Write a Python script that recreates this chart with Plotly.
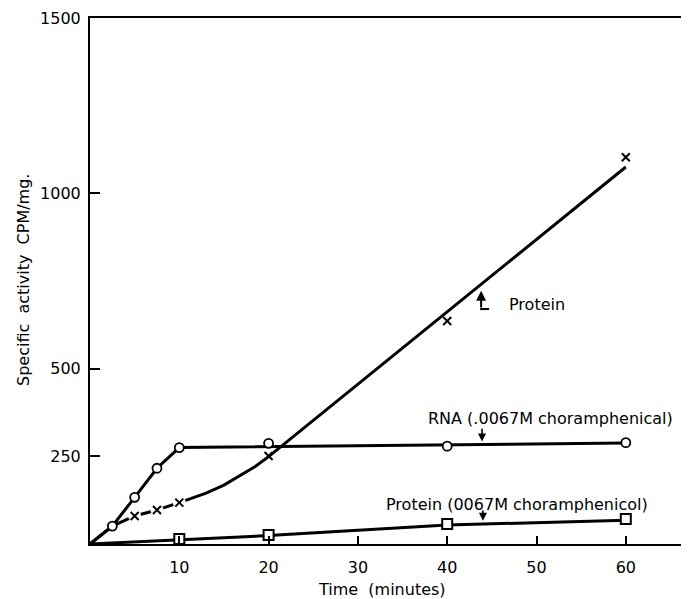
import plotly.graph_objects as go

# ---- data ----
rna_x = [2.5, 5, 7.5, 10, 20, 40, 60]
rna_y = [51, 133, 216, 275, 287, 279, 289]
rna_fit_x = [0, 2.5, 5, 7.5, 10, 20, 40, 60]
rna_fit_y = [0, 51, 133, 216, 275, 278, 283, 288]

protein_x = [5, 7.5, 10, 20, 40, 60]
protein_y = [80, 97, 118, 251, 636, 1103]
protein_fit_x = [0, 2.5, 5, 7.5, 10, 11.5, 13, 15, 17, 18.5, 20, 60]
protein_fit_y = [0, 51, 80, 97, 118, 131, 145, 168, 197, 221, 249, 1075]

chl_x = [10, 20, 40, 60]
chl_y = [14, 26, 57, 71]
chl_fit_x = [0, 10, 20, 40, 60]
chl_fit_y = [0, 12, 24, 54, 68]

x_ticks = [10, 20, 30, 40, 50, 60]
y_ticks = [250, 500, 1000, 1500]
y_tick_labels = ["250", "500", "1000", "1500"]

FONT = "DejaVu Sans"
LW = 3

# the page has an 8px body margin, so the figure is shrunk and shifted by it
PAGE_OFF = 8
PLOT_L, PLOT_T, PLOT_B = 90, 18, 544   # target pixel positions in the window
PLOT_W = 689 - PLOT_L
PLOT_H = PLOT_B - PLOT_T

fig = go.Figure()

# fitted lines
fig.add_trace(go.Scatter(x=rna_fit_x, y=rna_fit_y, mode="lines",
                         line=dict(color="black", width=LW), hoverinfo="skip"))
fig.add_trace(go.Scatter(x=protein_fit_x, y=protein_fit_y, mode="lines",
                         line=dict(color="black", width=LW), hoverinfo="skip"))
fig.add_trace(go.Scatter(x=chl_fit_x, y=chl_fit_y, mode="lines",
                         line=dict(color="black", width=LW), hoverinfo="skip"))

# white gaps around the early x markers
fig.add_trace(go.Scatter(x=protein_x[:3], y=protein_y[:3], mode="markers",
                         marker=dict(symbol="circle", size=13, color="white",
                                     line=dict(width=0)), hoverinfo="skip"))

# markers
fig.add_trace(go.Scatter(x=rna_x, y=rna_y, mode="markers",
                         marker=dict(symbol="circle", size=9, color="white",
                                     line=dict(color="black", width=1.8))))
fig.add_trace(go.Scatter(x=protein_x, y=protein_y, mode="markers",
                         marker=dict(symbol="x-thin", size=8, color="black",
                                     line=dict(color="black", width=2))))
fig.add_trace(go.Scatter(x=chl_x, y=chl_y, mode="markers",
                         marker=dict(symbol="square", size=10, color="white",
                                     line=dict(color="black", width=2))))

annotations = [
    dict(x=46.7, y=684, xref="x", yref="y", text="Protein", showarrow=False,
         xanchor="left", yanchor="middle", font=dict(family=FONT, size=16, color="black")),
    dict(x=43.8, y=722, ax=43.8, ay=670, xref="x", yref="y", axref="x", ayref="y",
         text="", showarrow=True, arrowhead=2, arrowsize=1, arrowwidth=2, arrowcolor="black"),
    dict(x=51.6, y=359, xref="x", yref="y", text="RNA (.0067M choramphenical)",
         showarrow=False, xanchor="center", yanchor="middle",
         font=dict(family=FONT, size=16, color="black")),
    dict(x=43.9, y=292, ax=43.9, ay=333, xref="x", yref="y", axref="x", ayref="y",
         text="", showarrow=True, arrowhead=2, arrowsize=1, arrowwidth=1.6, arrowcolor="black"),
    dict(x=47.8, y=112, xref="x", yref="y", text="Protein (0067M choramphenicol)",
         showarrow=False, xanchor="center", yanchor="middle",
         font=dict(family=FONT, size=16, color="black")),
    dict(x=44.0, y=66, ax=44.0, ay=100, xref="x", yref="y", axref="x", ayref="y",
         text="", showarrow=True, arrowhead=2, arrowsize=1, arrowwidth=1.6, arrowcolor="black"),
    dict(x=(382 - PLOT_L) / PLOT_W, y=(PLOT_B - 589) / PLOT_H, xref="paper", yref="paper",
         text="Time  (minutes)", showarrow=False, xanchor="center", yanchor="middle",
         font=dict(family=FONT, size=16, color="black")),
    dict(x=-(PLOT_L - 23) / PLOT_W, y=(PLOT_B - 280) / PLOT_H, xref="paper", yref="paper",
         text="Specific  activity  CPM/mg.", showarrow=False, textangle=-90,
         xanchor="center", yanchor="middle",
         font=dict(family=FONT, size=16, color="black")),
]

fig.update_layout(
    width=689 - PAGE_OFF, height=599 - PAGE_OFF,
    margin=dict(l=PLOT_L - PAGE_OFF, r=0, t=PLOT_T - PAGE_OFF, b=599 - PLOT_B),
    paper_bgcolor="white", plot_bgcolor="white",
    showlegend=False,
    font=dict(family=FONT, size=16, color="black"),
    annotations=annotations,
    shapes=[dict(type="line", xref="x", yref="y", xsizemode="pixel", xanchor=43.8,
                 x0=-1, x1=8, y0=670, y1=670, line=dict(color="black", width=2))],
    xaxis=dict(range=[0, PLOT_W / 8.93], tickvals=x_ticks, ticks="inside", ticklen=8,
               tickwidth=1.5, tickcolor="black", showline=True, linecolor="black",
               linewidth=2, mirror=True, showgrid=False, zeroline=False,
               ticklabelstandoff=8, automargin=False,
               tickfont=dict(family=FONT, size=16, color="black")),
    yaxis=dict(range=[0, 1500], tickvals=y_ticks, ticktext=y_tick_labels,
               ticks="inside", ticklen=10, tickwidth=1.5, tickcolor="black",
               showline=True, linecolor="black", linewidth=2, mirror=False,
               showgrid=False, zeroline=False, ticklabelstandoff=4, automargin=False,
               tickfont=dict(family=FONT, size=16, color="black")),
)

fig.write_html("out.html")
